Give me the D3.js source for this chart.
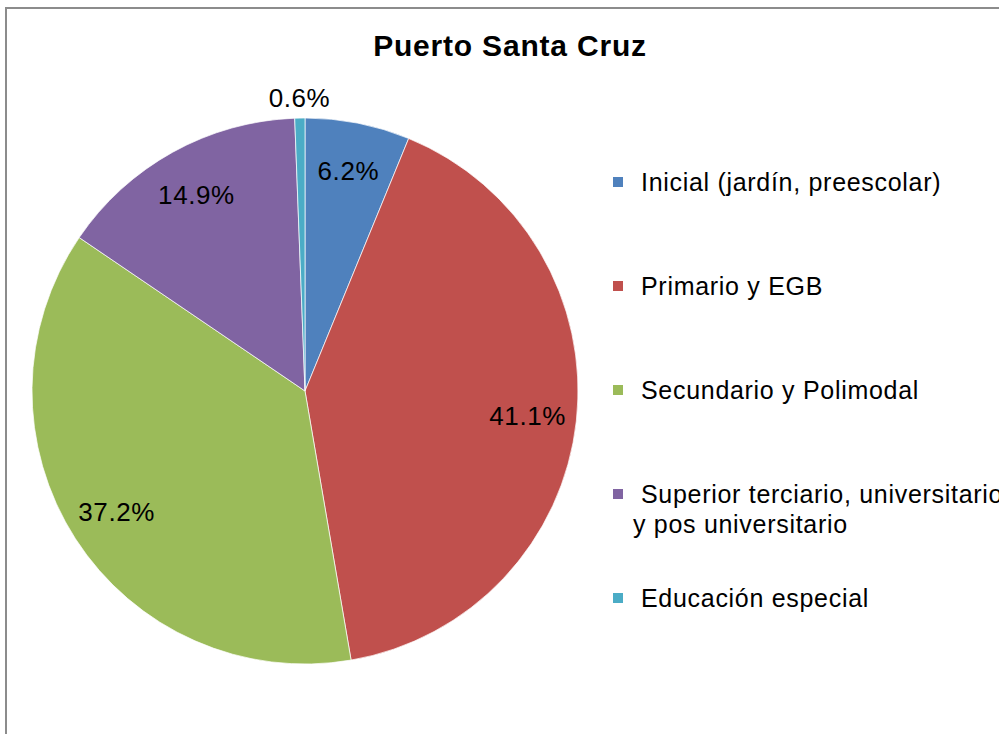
<!DOCTYPE html>
<html><head><meta charset="utf-8">
<script src="https://cdn.jsdelivr.net/npm/d3@7"></script>
<style>
html,body{margin:0;padding:0;background:#fff;}
svg{display:block;font-family:"Liberation Sans",Arial,sans-serif;}
</style></head>
<body>
<svg id="chart" width="999" height="734"></svg>
<script>
const title = "Puerto Santa Cruz";
const categories = ["Inicial (jardín, preescolar)", "Primario y EGB", "Secundario y Polimodal", "Superior terciario, universitario y pos universitario", "Educación especial"];
const legendLines = [["Inicial (jardín, preescolar)"], ["Primario y EGB"], ["Secundario y Polimodal"], ["Superior terciario, universitario", "y pos universitario"], ["Educación especial"]];
const values = [6.2, 41.1, 37.2, 14.9, 0.6];
const colors = ["#4F81BD", "#C0504D", "#9BBB59", "#8064A2", "#4BACC6"];

const svg = d3.select("#chart");
svg.append("rect").attr("x", 6).attr("y", 8).attr("width", 1200).attr("height", 1000)
  .attr("fill", "#fff").attr("stroke", "#8c8c8c").attr("stroke-width", 2);

svg.append("text").attr("x", 510).attr("y", 56).attr("text-anchor", "middle")
  .attr("font-weight", "bold").attr("font-size", 30).attr("letter-spacing", 0.8)
  .attr("fill", "#000").text(title);

const cx = 305, cy = 391, r = 273;
const g = svg.append("g").attr("transform", `translate(${cx},${cy})`);
const pie = d3.pie().sort(null).value(d => d);
const arcs = pie(values);
const arc = d3.arc().innerRadius(0).outerRadius(r);
const color = d3.scaleOrdinal().domain(d3.range(values.length)).range(colors);

g.selectAll("path").data(arcs).join("path")
  .attr("d", arc).attr("fill", (d, i) => color(i))
  .attr("stroke", "#fff").attr("stroke-width", 0.7);

const inLabel = d3.arc().innerRadius(224).outerRadius(224);
const outLabel = d3.arc().innerRadius(r + 20).outerRadius(r + 20);
g.selectAll("text.lbl").data(arcs).join("text").attr("class", "lbl")
  .attr("transform", d => {
    const c = (d.data < 2 ? outLabel : inLabel).centroid(d);
    return `translate(${c[0]},${c[1]})`;
  })
  .attr("text-anchor", "middle").attr("dy", "0.35em")
  .attr("font-size", 26).attr("letter-spacing", 0.6).attr("fill", "#000")
  .text(d => d.data.toFixed(1) + "%");

const legendY = d3.scalePoint().domain(d3.range(categories.length)).range([182, 598]);
const lg = svg.append("g");
categories.forEach((c, i) => {
  const y = legendY(i);
  lg.append("rect").attr("x", 613).attr("y", y - 5).attr("width", 10).attr("height", 10)
    .attr("fill", colors[i]);
  legendLines[i].forEach((line, j) => {
    lg.append("text").attr("x", j === 0 ? 641 : 633).attr("y", y + j * 30)
      .attr("dy", "0.35em").attr("font-size", 25).attr("letter-spacing", 0.7)
      .attr("fill", "#000").text(line);
  });
});
</script>
</body></html>
